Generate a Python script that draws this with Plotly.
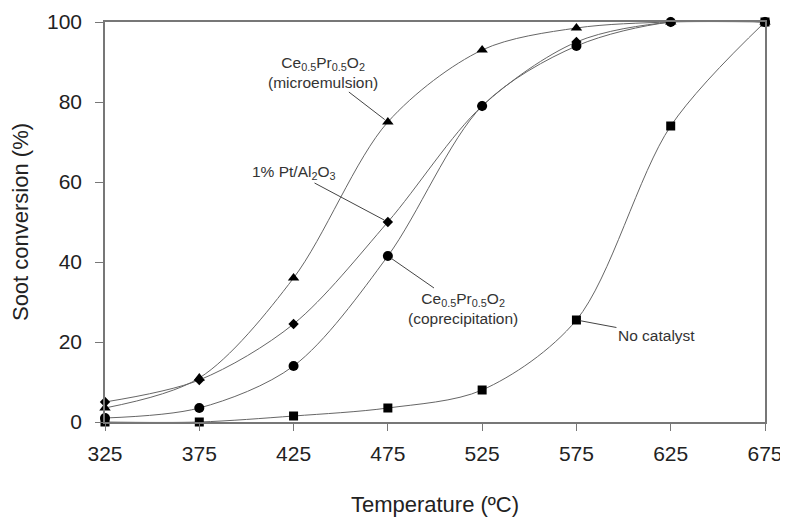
import plotly.graph_objects as go

temperature = [325, 375, 425, 475, 525, 575, 625, 675]
microemulsion = [3.5, 11, 36, 75, 93, 98.5, 100, 100]
pt_al2o3 = [5, 10.5, 24.5, 50, 79, 95, 100, 100]
coprecipitation = [1, 3.5, 14, 41.5, 79, 94, 100, 100]
no_catalyst = [0, 0, 1.5, 3.5, 8, 25.5, 74, 100]

x_ticks = [325, 375, 425, 475, 525, 575, 625, 675]
y_ticks = [0, 20, 40, 60, 80, 100]

series = [
    ("Ce0.5Pr0.5O2 (microemulsion)", microemulsion, "triangle-up", 10),
    ("1% Pt/Al2O3", pt_al2o3, "diamond", 8),
    ("Ce0.5Pr0.5O2 (coprecipitation)", coprecipitation, "circle", 10),
    ("No catalyst", no_catalyst, "square", 9),
]

fig = go.Figure()
for name, vals, sym, sz in series:
    fig.add_trace(go.Scatter(
        x=temperature, y=vals, name=name, mode="lines+markers",
        line=dict(shape="spline", smoothing=0.9, color="#666666", width=1),
        marker=dict(symbol=sym, size=sz, color="black"),
        cliponaxis=False,
    ))

font = "Liberation Sans, Arial, sans-serif"
ann_font = dict(family=font, size=15.5, color="#333333")
annotations = [
    dict(x=475, y=microemulsion[3], text="Ce<sub>0.5</sub>Pr<sub>0.5</sub>O<sub>2</sub><br>(microemulsion)",
         ax=-65, ay=-50),
    dict(x=475, y=pt_al2o3[3], text="1% Pt/Al<sub>2</sub>O<sub>3</sub>", ax=-94, ay=-50),
    dict(x=475, y=coprecipitation[3], text="Ce<sub>0.5</sub>Pr<sub>0.5</sub>O<sub>2</sub><br>(coprecipitation)",
         ax=75, ay=52),
    dict(x=575, y=no_catalyst[5], text="No catalyst", ax=80, ay=15),
]
for a in annotations:
    a.update(xref="x", yref="y", showarrow=True, arrowhead=0, arrowwidth=1,
             arrowcolor="#444444", font=ann_font, standoff=4)

fig.update_layout(
    width=780, height=509,
    margin=dict(l=97, r=23, t=14, b=95),
    paper_bgcolor="white", plot_bgcolor="white",
    showlegend=False,
    font=dict(family=font, color="#222222"),
    annotations=annotations,
    xaxis=dict(range=[325, 675], tickvals=x_ticks, ticktext=[str(t) for t in x_ticks],
               automargin=False,
               showgrid=False, zeroline=False, showline=True, linecolor="#777777", linewidth=1.5,
               mirror=True, ticks="outside", ticklen=7, tickcolor="#777777",
               ticklabelstandoff=5,
               tickfont=dict(size=21, family=font, color="#222222"),
               title=dict(text="Temperature (ºC)", font=dict(size=22, family=font, color="#222222"),
                          standoff=33)),
    yaxis=dict(range=[0, 100], tickvals=y_ticks,
               automargin=False,
               showgrid=False, zeroline=False, showline=True, linecolor="#777777", linewidth=1.5,
               mirror=True, ticks="outside", ticklen=8, tickcolor="#777777",
               ticklabelstandoff=9,
               tickfont=dict(size=21, family=font, color="#222222"),
               title=dict(text="Soot conversion (%)", font=dict(size=22, family=font, color="#222222"),
                          standoff=12)),
)

fig.write_html("out.html")
